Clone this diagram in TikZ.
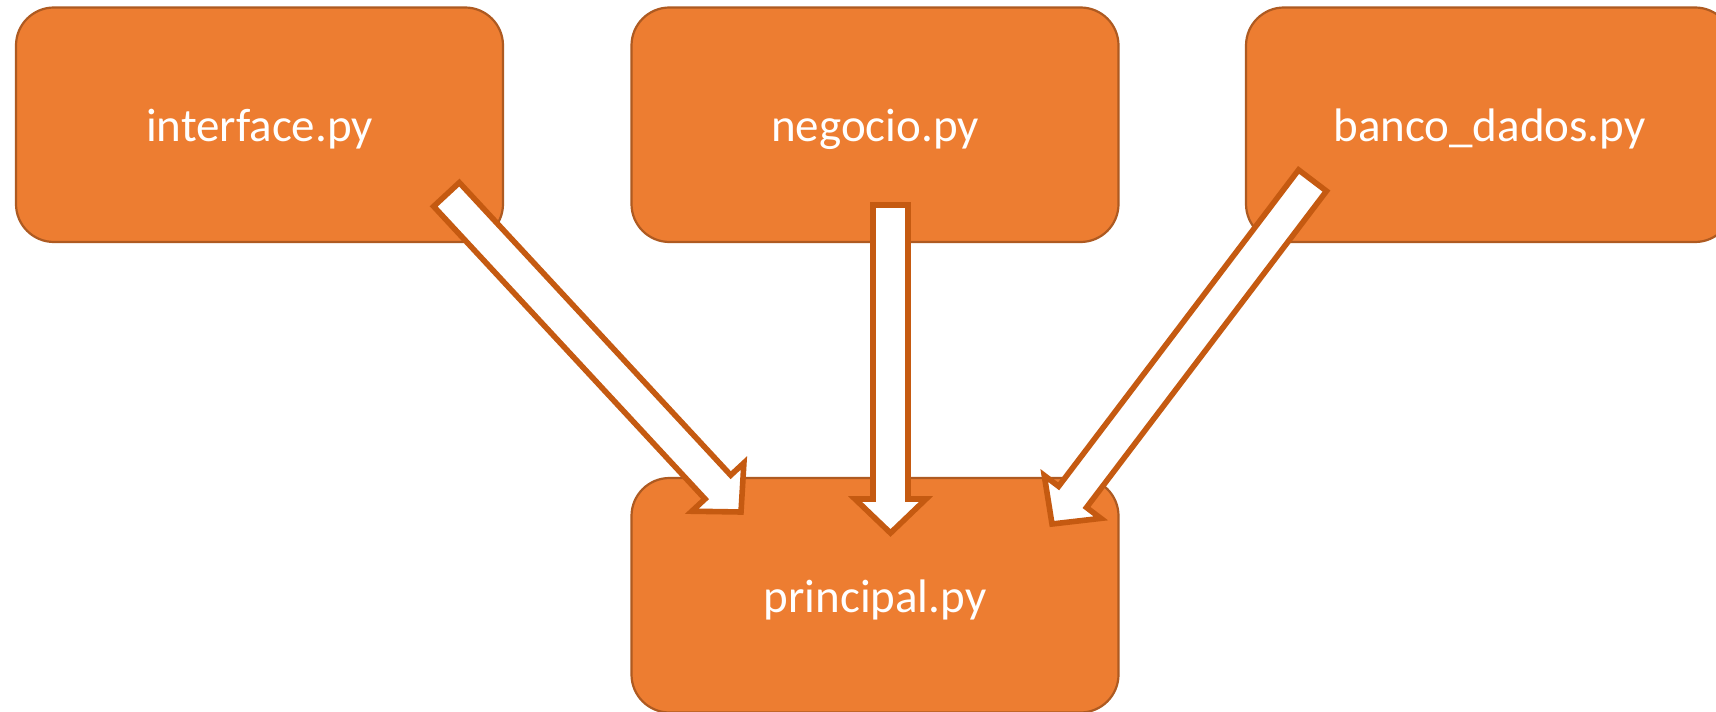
\documentclass[tikz,border=0pt]{standalone}
\usepackage{fontspec}
\setmainfont{Carlito}
\usetikzlibrary{calc}

\definecolor{boxfill}{HTML}{ED7D31}
\definecolor{boxline}{HTML}{AE5A21}
\definecolor{arrline}{HTML}{C55A11}

\tikzset{
  module/.style={draw=boxline, fill=boxfill, line width=1.1pt,
    rounded corners=19pt, minimum width=243.5pt, minimum height=117.25pt,
    text=white, font=\fontsize{23.5pt}{28pt}\selectfont,
    text height=20pt, text depth=3pt, inner sep=0pt},
  fatarr/.style={draw=arrline, fill=white, line width=2.8pt, line join=miter},
}

% hollow block arrow from #1 (tail centre) to #2 (tip)
\newcommand\fatarrow[2]{%
  \coordinate (#1-base) at ($(#2)!17pt!(#1)$);
  \draw[fatarr]
    ($(#1)!8.75pt!90:(#2)$) --
    ($(#1-base)!8.75pt!90:(#2)$) --
    ($(#1-base)!17.75pt!90:(#2)$) --
    (#2) --
    ($(#1-base)!17.75pt!-90:(#2)$) --
    ($(#1-base)!8.75pt!-90:(#2)$) --
    ($(#1)!8.75pt!-90:(#2)$) -- cycle;
}

\begin{document}
\begin{tikzpicture}[x=0.5pt, y=-0.5pt]
  \path[use as bounding box, clip] (0,0) rectangle (1716,711);
  \fill[white] (0,0) rectangle (1716,711);

  % modules
  \node[module] (iface) at (259.5,124.75) {interface.py};
  \node[module] (neg)   at (875,124.75)   {negocio.py};
  \node[module] (bd)    at (1489.5,124.75) {banco\_dados.py};
  \node[module] (main)  at (875,595.25)   {principal.py};

  % arrow ends
  \coordinate (ifaceT) at (446.5,194.5);
  \coordinate (ifaceH) at (741,512);
  \coordinate (negT)   at (890.5,205);
  \coordinate (negH)   at (890.5,533);
  \coordinate (bdT)    at (1312.5,180.5);
  \coordinate (bdH)    at (1052,524);

  % dependencies into principal.py
  \fatarrow{ifaceT}{ifaceH}
  \fatarrow{negT}{negH}
  \fatarrow{bdT}{bdH}
\end{tikzpicture}
\end{document}
